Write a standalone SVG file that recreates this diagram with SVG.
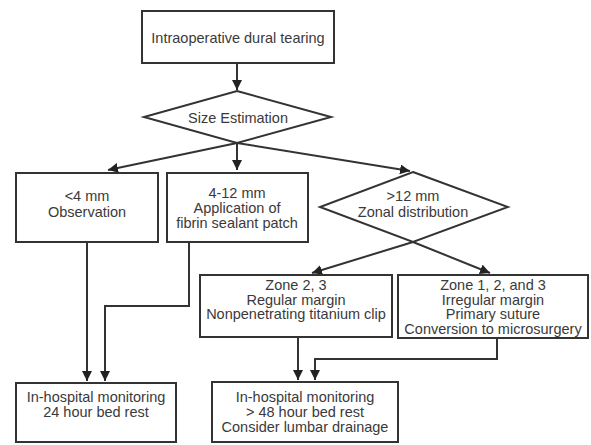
<svg xmlns="http://www.w3.org/2000/svg" width="591" height="445" viewBox="0 0 591 445">
<defs>
<marker id="ah" markerWidth="12" markerHeight="12" refX="10" refY="5" orient="auto" markerUnits="userSpaceOnUse">
<path d="M0,0 L10,5 L0,10 Z" fill="#222"/>
</marker>
<style>
.box{fill:#fff;stroke:#333;stroke-width:2}
.t{font-family:"Liberation Sans",Arial,sans-serif;font-size:14.5px;fill:#3a3a3a;text-anchor:middle;dominant-baseline:central}
.c{fill:none;stroke:#333;stroke-width:2;marker-end:url(#ah)}
</style>
</defs>
<rect width="591" height="445" fill="#fff"/>
<g id="connectors">
<path class="c" d="M237,63 V90"/>
<path class="c" d="M237,143 L108,170"/>
<path class="c" d="M237,143 V170"/>
<path class="c" d="M237,143 L410,171"/>
<path class="c" d="M413,242 L312,273"/>
<path class="c" d="M413,242 L490,273"/>
<path class="c" d="M87,242 V381"/>
<path class="c" d="M189,242 V306 H105 V381"/>
<path class="c" d="M298,337 V380"/>
<path class="c" d="M497,338 V359 H315 V380"/>
</g>
<g id="n1"><rect class="box" x="142" y="11" width="192" height="52"/><text class="t" x="238" y="38">Intraoperative dural tearing</text></g>
<g id="n2"><polygon class="box" points="237,91 331,117 237,143 144,117"/><text class="t" x="238" y="118">Size Estimation</text></g>
<g id="n3"><rect class="box" x="16" y="173" width="142" height="69"/><text class="t" x="87" y="196">&lt;4 mm</text><text class="t" x="87" y="211.5">Observation</text></g>
<g id="n4"><rect class="box" x="167" y="173" width="141" height="69"/><text class="t" x="237" y="193">4-12 mm</text><text class="t" x="237" y="208">Application of</text><text class="t" x="237" y="223">fibrin sealant patch</text></g>
<g id="n5"><polygon class="box" points="413,172 508,207 413,242 320,207"/><text class="t" x="413" y="196">&gt;12 mm</text><text class="t" x="413" y="211.5">Zonal distribution</text></g>
<g id="n6"><rect class="box" x="200" y="275" width="192" height="62"/><text class="t" x="296" y="285">Zone 2, 3</text><text class="t" x="296" y="299.5">Regular margin</text><text class="t" x="296" y="314">Nonpenetrating titanium clip</text></g>
<g id="n7"><rect class="box" x="398" y="275" width="190" height="63"/><text class="t" x="493" y="285">Zone 1, 2, and 3</text><text class="t" x="493" y="299.5">Irregular margin</text><text class="t" x="493" y="314">Primary suture</text><text class="t" x="493" y="328.5">Conversion to microsurgery</text></g>
<g id="n8"><rect class="box" x="16" y="383" width="160" height="59"/><text class="t" x="96" y="397">In-hospital monitoring</text><text class="t" x="96" y="412">24 hour bed rest</text></g>
<g id="n9"><rect class="box" x="212" y="382" width="186" height="60"/><text class="t" x="305" y="397">In-hospital monitoring</text><text class="t" x="305" y="412">&gt; 48 hour bed rest</text><text class="t" x="305" y="427">Consider lumbar drainage</text></g>
</svg>
